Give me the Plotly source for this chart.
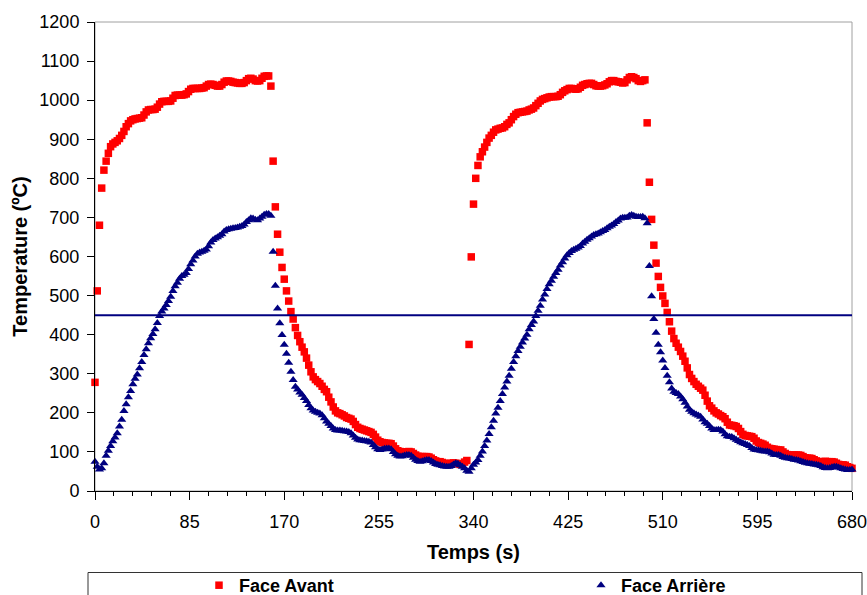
import plotly.graph_objects as go

# Time samples (s)
temps = list(range(0, 681, 2))

# Face Avant (red squares), one value per 2 s
face_avant = [
    278, 512, 680, 775, 821, 844, 864, 881, 888, 892,
    896, 902, 910, 920, 932, 940, 947, 950, 952, 953,
    954, 955, 962, 970, 975, 976, 976, 977, 982, 990,
    996, 997, 997, 997, 998, 1005, 1012, 1013, 1013, 1013,
    1014, 1016, 1022, 1028, 1030, 1030, 1030, 1030, 1031, 1032,
    1036, 1040, 1041, 1040, 1038, 1036, 1036, 1040, 1046, 1049,
    1049, 1048, 1046, 1045, 1044, 1043, 1043, 1045, 1050, 1055,
    1056, 1054, 1050, 1049, 1050, 1056, 1061, 1062, 1062, 1036,
    844, 727, 657, 611, 572, 542, 512, 486, 459, 440,
    418, 398, 382, 368, 356, 340, 322, 305, 292, 285,
    280, 275, 268, 260, 254, 240, 228, 215, 205, 200,
    198, 195, 192, 188, 186, 184, 178, 170, 163, 160,
    158, 156, 154, 152, 150, 145, 138, 130, 126, 124,
    123, 122, 122, 121, 115, 108, 103, 101, 100, 100,
    100, 101, 100, 96, 92, 89, 88, 88, 88, 88,
    87, 84, 80, 77, 75, 75, 73, 71, 70, 70,
    71, 72, 71, 70, 68, 70, 74, 78, 375, 599,
    734, 800, 833, 855, 868, 880, 892, 903, 910, 918,
    924, 926, 928, 929, 932, 938, 942, 950, 958, 964,
    968, 969, 970, 971, 972, 975, 977, 980, 986, 992,
    998, 1002, 1004, 1006, 1008, 1009, 1009, 1009, 1010, 1014,
    1020, 1024, 1027, 1030, 1030, 1029, 1028, 1029, 1033, 1038,
    1040, 1042, 1043, 1043, 1040, 1037, 1036, 1036, 1037, 1039,
    1042, 1047, 1050, 1050, 1048, 1047, 1046, 1044, 1045, 1052,
    1058, 1060, 1058, 1055, 1050, 1048, 1050, 1052, 942, 790,
    695, 629, 583, 549, 521, 499, 480, 457, 433, 409,
    390, 378, 368, 357, 345, 332, 315, 298, 288, 280,
    273, 268, 263, 258, 245, 230, 218, 212, 205, 200,
    197, 193, 190, 185, 176, 169, 168, 167, 165, 160,
    152, 145, 142, 141, 140, 139, 135, 128, 124, 122,
    120, 117, 112, 109, 108, 107, 106, 105, 105, 100,
    96, 93, 92, 92, 92, 92, 92, 91, 88, 85,
    84, 84, 83, 80, 77, 75, 75, 75, 76, 75,
    75, 75, 74, 71, 68, 67, 67, 66, 62, 60,
    58,
]

# Face Arrière (navy triangles), one value per 2 s
face_arriere = [
    75, 62, 55, 58, 71, 90, 103, 115, 127, 137,
    148, 165, 182, 205, 222, 240, 256, 273, 287, 298,
    314, 330, 348, 363, 378, 391, 402, 414, 430, 448,
    459, 467, 476, 486, 497, 512, 524, 533, 543, 550,
    553, 558, 568, 580, 590, 600, 607, 610, 612, 615,
    618, 626, 636, 642, 646, 649, 653, 657, 664, 668,
    670, 671, 672, 673, 674, 676, 678, 682, 688, 693,
    698, 697, 694, 693, 697, 702, 707, 709, 709, 704,
    612, 525, 467, 429, 399, 374, 351, 328, 305, 284,
    267, 260, 252, 246, 238, 230, 220, 212, 206, 203,
    200, 198, 194, 186, 178, 172, 166, 160, 156, 155,
    155, 154, 153, 152, 151, 148, 142, 136, 132, 130,
    129, 128, 127, 126, 124, 118, 112, 107, 105, 106,
    108, 109, 109, 107, 100, 94, 90, 88, 89, 91,
    92, 92, 90, 85, 80, 77, 75, 76, 78, 79,
    79, 77, 73, 69, 67, 66, 64, 63, 62, 62,
    64, 68, 71, 70, 66, 62, 58, 52, 49, 58,
    67, 73, 79, 90, 101, 115, 129, 146, 163, 180,
    198, 213, 230, 248, 265, 280, 295, 313, 330, 345,
    358, 369, 380, 390, 400, 414, 425, 434, 448, 461,
    474, 490, 503, 517, 529, 538, 548, 558, 566, 577,
    585, 595, 603, 609, 614, 617, 620, 623, 627, 633,
    638, 643, 647, 651, 655, 657, 659, 662, 665, 668,
    672, 676, 679, 683, 688, 692, 697, 699, 699, 700,
    704, 706, 704, 702, 701, 701, 702, 698, 685, 576,
    498, 440, 405, 374, 355, 334, 315, 295, 278, 262,
    254, 251, 248, 242, 235, 226, 216, 208, 203, 199,
    196, 193, 190, 183, 176, 172, 166, 160, 156, 156,
    157, 156, 152, 145, 140, 139, 138, 135, 131, 128,
    125, 122, 120, 118, 115, 110, 106, 105, 104, 103,
    102, 101, 101, 99, 96, 93, 92, 92, 90, 87,
    85, 84, 83, 82, 80, 79, 78, 76, 74, 72,
    71, 70, 69, 68, 67, 66, 64, 61, 59, 58,
    59, 61, 62, 62, 60, 58, 56, 55, 54, 54,
    55,
]

seuil = 450  # horizontal reference line (ºC)

x_ticks = [0, 85, 170, 255, 340, 425, 510, 595, 680]
y_ticks = list(range(0, 1201, 100))

assert len(face_avant) == len(temps) == len(face_arriere)

FONT = "Liberation Sans, Arial, sans-serif"

fig = go.Figure()
fig.add_trace(go.Scatter(
    x=temps, y=face_avant, mode="markers", name="Face Avant",
    marker=dict(symbol="square", size=7.5, color="#FF0000"),
    cliponaxis=False, legend="legend",
))
fig.add_trace(go.Scatter(
    x=temps, y=face_arriere, mode="markers", name="Face Arrière",
    marker=dict(symbol="triangle-up", size=8, color="#000080"),
    cliponaxis=False, legend="legend2",
))
fig.add_trace(go.Scatter(
    x=[x_ticks[0], x_ticks[-1]], y=[seuil, seuil], mode="lines",
    line=dict(color="#000080", width=2), showlegend=False, hoverinfo="skip",
))

W, H = 867, 595
ml, mr, mt, mb = 95, 15, 22, 104
pw, ph = W - ml - mr, H - mt - mb

def px2x(px):
    return (px - ml) / pw

def py2y(py):
    return (H - mb - py) / ph

fig.update_layout(
    width=W, height=H,
    margin=dict(l=ml, r=mr, t=mt, b=mb, autoexpand=False),
    plot_bgcolor="white", paper_bgcolor="white",
    font=dict(family=FONT, color="black"),
    xaxis=dict(
        range=[x_ticks[0], x_ticks[-1]], tickmode="array", tickvals=x_ticks,
        ticks="outside", ticklen=8, tickcolor="black", tickwidth=1,
        showline=True, linecolor="black", linewidth=1,
        showgrid=False, zeroline=False,
        tickfont=dict(size=18, family=FONT),
        ticklabelstandoff=6, ticklabeloverflow="allow",
        minor=dict(tick0=0, dtick=17, ticks="outside", ticklen=4,
                   tickcolor="black", showgrid=False),
        title=dict(text="<b>Temps (s)</b>", font=dict(size=20, family=FONT),
                   standoff=14),
    ),
    yaxis=dict(
        range=[y_ticks[0], y_ticks[-1]], tickmode="array", tickvals=y_ticks,
        ticks="outside", ticklen=7, tickcolor="black", tickwidth=1,
        showline=True, linecolor="black", linewidth=1,
        showgrid=False, zeroline=False,
        tickfont=dict(size=18, family=FONT),
        ticklabelstandoff=4, ticklabeloverflow="allow",
        title=dict(text="<b>Temperature (ºC)</b>", font=dict(size=20, family=FONT),
                   standoff=6),
    ),
    legend=dict(
        orientation="h", x=px2x(199), y=py2y(567), xanchor="left", yanchor="top",
        bgcolor="rgba(0,0,0,0)", borderwidth=0,
        font=dict(size=18, family=FONT, weight="bold"),
    ),
    legend2=dict(
        orientation="h", x=px2x(581), y=py2y(567), xanchor="left", yanchor="top",
        bgcolor="rgba(0,0,0,0)", borderwidth=0,
        font=dict(size=18, family=FONT, weight="bold"),
    ),
    shapes=[
        dict(type="rect", xref="paper", yref="paper", x0=0, x1=1, y0=0, y1=1,
             line=dict(color="#a0a0a0", width=1), layer="below"),
        dict(type="rect", xref="paper", yref="paper",
             x0=px2x(88), x1=px2x(862), y0=py2y(612), y1=py2y(572.5),
             line=dict(color="#333333", width=1), layer="above"),
    ],
)

fig.write_html("out.html")
